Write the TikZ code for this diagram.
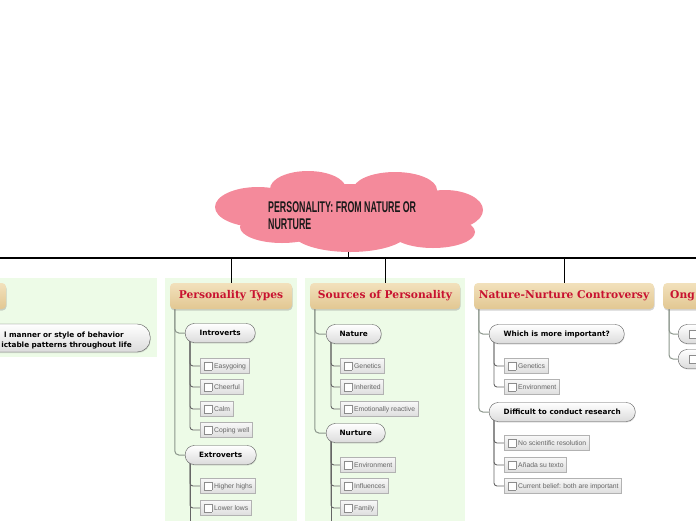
\documentclass[tikz,border=0pt]{standalone}
\usepackage{fontspec}
\usetikzlibrary{shadows}
\newfontfamily\pillfont{DejaVu Sans}
\newfontfamily\leaffont{Liberation Sans}
\newfontfamily\topicfont{DejaVu Serif}
\newfontfamily\cloudfont[FakeStretch=0.57]{Liberation Sans}
\definecolor{cloudpink}{RGB}{244,138,155}
\definecolor{panelgreen}{RGB}{237,251,231}
\definecolor{toptan}{RGB}{242,225,188}
\definecolor{bottan}{RGB}{226,199,146}
\definecolor{topicred}{RGB}{200,18,48}
\definecolor{trunkgray}{RGB}{140,150,140}
\newcommand\chk{\raisebox{-1.2pt}{\setlength\fboxsep{0pt}\setlength\fboxrule{0.5pt}%
  \fcolorbox{black!45}{white}{\rule{0pt}{7pt}\hspace{7pt}}}}
\pgfdeclarelayer{back}
\pgfdeclarelayer{wires}
\pgfsetlayers{back,wires,main}
\tikzset{
  bus/.style={black, line width=1.2pt},
  drop/.style={black, line width=1pt},
  trunk/.style={trunkgray, line width=1pt, rounded corners=4pt},
  twig/.style={black!60, line width=0.9pt, rounded corners=3pt},
  topic/.style={rounded corners=4pt, top color=toptan, bottom color=bottan,
    minimum height=26pt, inner sep=0pt, text=topicred,
    font=\topicfont\bfseries\fontsize{10.7}{12}\selectfont,
    drop shadow={shadow xshift=0.5pt, shadow yshift=-1.5pt, opacity=0.35}},
  pill/.style={rounded corners=9pt, draw=black!65, top color=white, bottom color=black!14,
    minimum height=19pt, inner sep=0pt, anchor=west,
    font=\pillfont\bfseries\fontsize{7.3}{9}\selectfont,
    drop shadow={shadow xshift=0.5pt, shadow yshift=-1pt, opacity=0.25}},
  leaf/.style={draw=black!30, top color=black!3, bottom color=black!13,
    minimum height=15pt, inner xsep=3pt, inner ysep=0pt, anchor=west,
    font=\leaffont\fontsize{6.8}{8}\selectfont, text=black!60,
    execute at begin node={\hspace*{1pt}\chk\hspace{2pt}}},
}
\begin{document}
\begin{tikzpicture}[x=1pt,y=-1pt]
\useasboundingbox (0,0) rectangle (696,520);
\begin{pgfonlayer}{back}
% panels
\fill[panelgreen] (0,278) rectangle (157,357);
\fill[panelgreen] (165,278) rectangle (297,530);
\fill[panelgreen] (305,278) rectangle (465,530);
% cloud
\foreach \cx/\cy/\rx/\ry in {258/207/43/20, 308/189/38/18, 395/190/42/18, 445/210/38/20,
    282/227/42/16, 350/232/58/20, 433/232/42/16, 350/210/95/26}
  \fill[cloudpink] (\cx,\cy) ellipse [x radius=\rx, y radius=\ry];
\end{pgfonlayer}

\node[anchor=north west, align=left, inner sep=0pt, text=black!90,
  font=\cloudfont\bfseries\fontsize{15.5}{17}\selectfont] (root) at (268,201.5)
  {PERSONALITY: FROM NATURE OR\\NURTURE};
\coordinate (root-foot) at (348,252);
\coordinate (bus-w) at (0,258);
\coordinate (bus-e) at (696,258);

% topics
\node[topic, minimum width=120pt] (defn) at (-54,296) {};
\node[topic, minimum width=122pt] (ptypes) at (231,296) {Personality Types};
\node[topic, minimum width=150pt] (sources) at (385,296) {Sources of Personality};
\node[topic, minimum width=180pt] (nncon) at (564,296) {Nature-Nurture Controversy};
\node[topic, anchor=west, inner xsep=7pt] (ong) at (663,296) {Ong};

% definition
\node[pill, minimum width=300pt, minimum height=28pt, rounded corners=13pt] (defpill) at (-150,338) {};
\node[anchor=base east, inner sep=0pt, font=\pillfont\bfseries\fontsize{7.3}{9}\selectfont] (defl1) at (124,337) {l manner or style of behavior};
\node[anchor=base east, inner sep=0pt, font=\pillfont\bfseries\fontsize{7.3}{9}\selectfont] (defl2) at (132,347) {ictable patterns throughout life};

% personality types
\node[pill, minimum width=70pt] (intro) at (185,333) {Introverts};
\node[leaf] (easy) at (200,366) {Easygoing};
\node[leaf] (cheer) at (200,387) {Cheerful};
\node[leaf] (calm) at (200,409) {Calm};
\node[leaf] (coping) at (200,430) {Coping well};
\node[pill, minimum width=71pt] (extro) at (185,455) {Extroverts};
\node[leaf] (higher) at (200,486) {Higher highs};
\node[leaf] (lower) at (200,508) {Lower lows};
\coordinate (extro-tail) at (190,530);

% sources of personality
\node[pill, minimum width=55pt] (nature) at (326,334) {Nature};
\node[leaf] (genet) at (340,366) {Genetics};
\node[leaf] (inher) at (340,387) {Inherited};
\node[leaf] (emot) at (340,409) {Emotionally reactive};
\node[pill, minimum width=59pt] (nurture) at (326,433) {Nurture};
\node[leaf] (envir) at (340,465) {Environment};
\node[leaf] (influ) at (340,486) {Influences};
\node[leaf] (family) at (340,508) {Family};
\coordinate (nurture-tail) at (331,530);

% nature-nurture controversy
\node[pill, minimum width=135pt] (which) at (489,334) {Which is more important?};
\node[leaf] (genet2) at (504,366) {Genetics};
\node[leaf] (envir2) at (504,387) {Environment};
\node[pill, minimum width=146pt] (diff) at (489,412) {Difficult to conduct research};
\node[leaf] (nosci) at (504,443) {No scientific resolution};
\node[leaf] (anada) at (504,465) {Añada su texto};
\node[leaf] (belief) at (504,486) {Current belief: both are important};

% ongoing
\node[pill, inner xsep=11pt] (ong1) at (678,334) {\chk\hspace{40pt}};
\node[pill, inner xsep=11pt] (ong2) at (678,359) {\chk\hspace{40pt}};

\begin{pgfonlayer}{wires}
\draw[bus] (bus-w) -- (bus-e);
\draw[drop] (root-foot) -- (root-foot |- bus-w);
\foreach \t in {ptypes,sources,nncon}
  \draw[drop] (\t.center) -- (\t.center |- bus-w);
\foreach \p in {intro,extro}
  \draw[trunk] ([xshift=5pt]ptypes.west) |- (\p.west);
\foreach \p in {nature,nurture}
  \draw[trunk] ([xshift=5pt]sources.west) |- (\p.west);
\foreach \p in {which,diff}
  \draw[trunk] ([xshift=5pt]nncon.west) |- (\p.west);
\foreach \p in {ong1,ong2}
  \draw[trunk] ([xshift=6pt]ong.west) |- (\p.west);
\foreach \l in {easy,cheer,calm,coping}
  \draw[twig] ([xshift=5pt]intro.west) |- (\l.west);
\foreach \l in {higher,lower}
  \draw[twig] ([xshift=5pt]extro.west) |- (\l.west);
\draw[twig] ([xshift=5pt]extro.west) -- (extro-tail);
\foreach \l in {genet,inher,emot}
  \draw[twig] ([xshift=5pt]nature.west) |- (\l.west);
\foreach \l in {envir,influ,family}
  \draw[twig] ([xshift=5pt]nurture.west) |- (\l.west);
\draw[twig] ([xshift=5pt]nurture.west) -- (nurture-tail);
\foreach \l in {genet2,envir2}
  \draw[twig] ([xshift=5pt]which.west) |- (\l.west);
\foreach \l in {nosci,anada,belief}
  \draw[twig] ([xshift=5pt]diff.west) |- (\l.west);
\end{pgfonlayer}
\end{tikzpicture}
\end{document}
